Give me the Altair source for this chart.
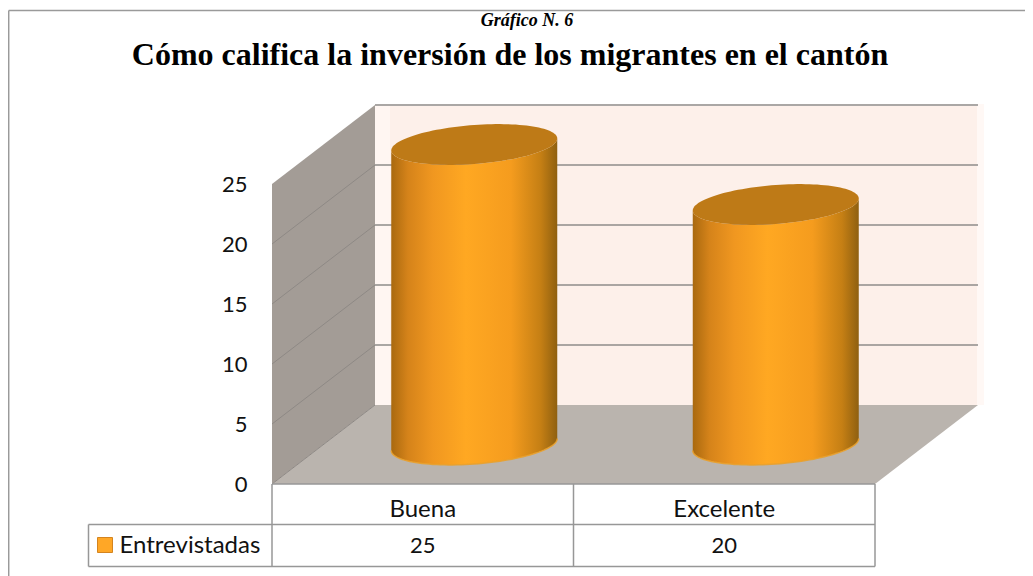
import math
import altair as alt
import pandas as pd

categories = ["Buena", "Excelente"]
values = [25, 20]
y_ticks = [0, 5, 10, 15, 20, 25]
series_name = "Entrevistadas"
title_text = "Cómo califica la inversión de los migrantes en el cantón"
caption_text = "Gráfico N. 6"

W, H = 1017, 568
X0, XSTEP = 272.0, 301.5      # front edge of the category axis
Y0, YSTEP = 484.0, 12.0       # front baseline, pixels per unit
DX, DY = 103.0, 79.0          # depth of the 3D box
TOP = 25.0


def cx(p):
    return (p - X0) / XSTEP


def cy(p):
    return (Y0 - p) / YSTEP


x_scale = alt.Scale(domain=[cx(8), cx(8 + W)], range=[0, W], nice=False, zero=False)
y_scale = alt.Scale(domain=[cy(8 + H), cy(8)], range=[H, 0], nice=False, zero=False)
y_axis = alt.Axis(
    values=y_ticks,
    title=None,
    domain=False,
    ticks=False,
    grid=False,
    offset=-(247 - 8),
    labelPadding=0,
    labelFont="Lato",
    labelFontSize=22,
    labelColor="#111111",
    format="d",
)
X = alt.X("x:Q", scale=x_scale, axis=None)
Y = alt.Y("y:Q", scale=y_scale, axis=y_axis)


def area(rows, **mark):
    df = pd.DataFrame(rows, columns=["x", "y", "y2"])
    return alt.Chart(df).mark_area(**mark).encode(x=X, y=Y, y2="y2:Q")


def rules(rows, color, width):
    df = pd.DataFrame(rows, columns=["x", "x2", "y", "y2"])
    return alt.Chart(df).mark_rule(color=color, strokeWidth=width).encode(
        x=X, x2="x2:Q", y=Y, y2="y2:Q"
    )


def text(rows, **mark):
    df = pd.DataFrame(rows, columns=["x", "y", "t"])
    return alt.Chart(df).mark_text(**mark).encode(x=X, y=Y, text="t:N")


ddx, ddy = DX / XSTEP, DY / YSTEP
layers = []

# back wall with its soft edge
layers.append(area([[cx(375), cy(405), cy(104)], [cx(984), cy(405), cy(104)]], color="#FFF8F5"))
layers.append(area([[cx(375), cy(405), cy(106)], [cx(977), cy(405), cy(106)]], color="#FDF0EA"))
layers.append(area([[cx(375), cy(405), cy(106)], [cx(390), cy(405), cy(106)]], color="#FFF6F2"))

# left wall
layers.append(area([[0, 0, TOP], [ddx, ddy, TOP + ddy]], color="#A39C96"))
# floor
layers.append(
    area(
        [
            [0, 0, 0],
            [ddx, ddy, 0],
            [2, ddy, 0],
            [2 + ddx, ddy, ddy],
        ],
        color="#BAB4AE",
    )
)

# gridlines on back and side walls
grid_vals = [5, 10, 15, 20, 25]
layers.append(
    rules([[ddx, 2 + ddx, v + ddy, v + ddy] for v in grid_vals], "#8E8C8A", 1.6)
)
for v in [0] + grid_vals[:-1]:
    df = pd.DataFrame({"x": [0, ddx], "y": [v, v + ddy]})
    layers.append(alt.Chart(df).mark_line(color="#8E8985", strokeWidth=1).encode(x=X, y=Y))

# cylinders
A = 83.0 / XSTEP
B = 19.5 / YSTEP
K = 6.0 / YSTEP
N = 60
gradient = alt.LinearGradient(
    gradient="linear",
    x1=0,
    x2=1,
    y1=0,
    y2=0,
    stops=[
        alt.GradientStop(offset=0.0, color="#A9690F"),
        alt.GradientStop(offset=0.1, color="#D5831A"),
        alt.GradientStop(offset=0.25, color="#F09720"),
        alt.GradientStop(offset=0.45, color="#FFA822"),
        alt.GradientStop(offset=0.72, color="#F59C1E"),
        alt.GradientStop(offset=0.9, color="#C57F14"),
        alt.GradientStop(offset=1.0, color="#8F6010"),
    ],
)
for i, v in enumerate(values):
    xc = i + 0.5 + ddx / 2
    base = ddy / 2
    top_lo, bot_lo, top_up, xs = [], [], [], []
    for j in range(N + 1):
        t = math.pi * j / N
        xs.append(xc - A * math.cos(t))
        s, c = math.sin(t), -math.cos(t)
        top_up.append(base + v + B * s + K * c)
        top_lo.append(base + v - B * s + K * c)
        bot_lo.append(base - B * s + K * c)
    body = [[a, b, d] for a, b, d in zip(xs, bot_lo, top_lo)]
    layers.append(area(body, fill=gradient, stroke="#F2A93A", strokeWidth=0))
    lip = pd.DataFrame({"x": xs, "y": bot_lo})
    layers.append(
        alt.Chart(lip).mark_line(color="#E9A12D", strokeWidth=1.5, opacity=0.9).encode(x=X, y=Y)
    )
    cap = [[a, b, d] for a, b, d in zip(xs, top_up, top_lo)]
    layers.append(area(cap, color="#BE7A17"))

# data table
right = 2.0
L = cx(88.5)
tb1, tb2 = cy(524.5), cy(566.5)
layers.append(
    rules(
        [
            [0, right, 0, 0],
            [L, right, tb1, tb1],
            [L, right, tb2, tb2],
            [L, L, tb1, tb2],
            [0, 0, 0, tb2],
            [1, 1, 0, tb2],
            [right, right, 0, tb2],
        ],
        "#979797",
        1.5,
    )
)
layers.append(
    text(
        [[i + 0.5, cy(510), c] for i, c in enumerate(categories)],
        font="Lato",
        fontSize=24,
        color="#111111",
        align="center",
        baseline="middle",
    )
)
layers.append(
    text(
        [[i + 0.5, cy(545.5), str(v)] for i, v in enumerate(values)],
        font="Lato",
        fontSize=22,
        color="#111111",
        align="center",
        baseline="middle",
    )
)
layers.append(
    text(
        [[cx(119.5), cy(545.5), series_name]],
        font="Lato",
        fontSize=24,
        color="#111111",
        align="left",
        baseline="middle",
    )
)
swatch = pd.DataFrame({"x": [cx(97.5)], "x2": [cx(112.5)], "y": [cy(552.5)], "y2": [cy(537.5)]})
layers.append(
    alt.Chart(swatch)
    .mark_rect(color="#FFA726", stroke="#D4841F", strokeWidth=1)
    .encode(x=X, x2="x2:Q", y=Y, y2="y2:Q")
)

# outer frame
layers.append(
    rules(
        [
            [cx(8.7), cx(1025), cy(10.5), cy(10.5)],
            [cx(8.7), cx(8.7), cy(10.5), cy(576)],
        ],
        "#9A9A9A",
        1.5,
    )
)

# heading and caption
layers.append(
    text(
        [[cx(510), cy(65), title_text]],
        font="Liberation Serif",
        fontSize=32,
        fontWeight="bold",
        color="#000000",
        align="center",
        baseline="alphabetic",
    )
)
layers.append(
    text(
        [[cx(527), cy(26), caption_text]],
        font="Liberation Serif",
        fontSize=18,
        fontWeight="bold",
        fontStyle="italic",
        color="#000000",
        align="center",
        baseline="alphabetic",
    )
)

chart = (
    alt.layer(*layers)
    .properties(
        width=W,
        height=H,
        padding=0,
        autosize=alt.AutoSizeParams(type="none"),
        background="#FFFFFF",
    )
    .configure_view(stroke=None)
)

chart.save("out.html", embed_options={"renderer": "svg", "actions": False})
